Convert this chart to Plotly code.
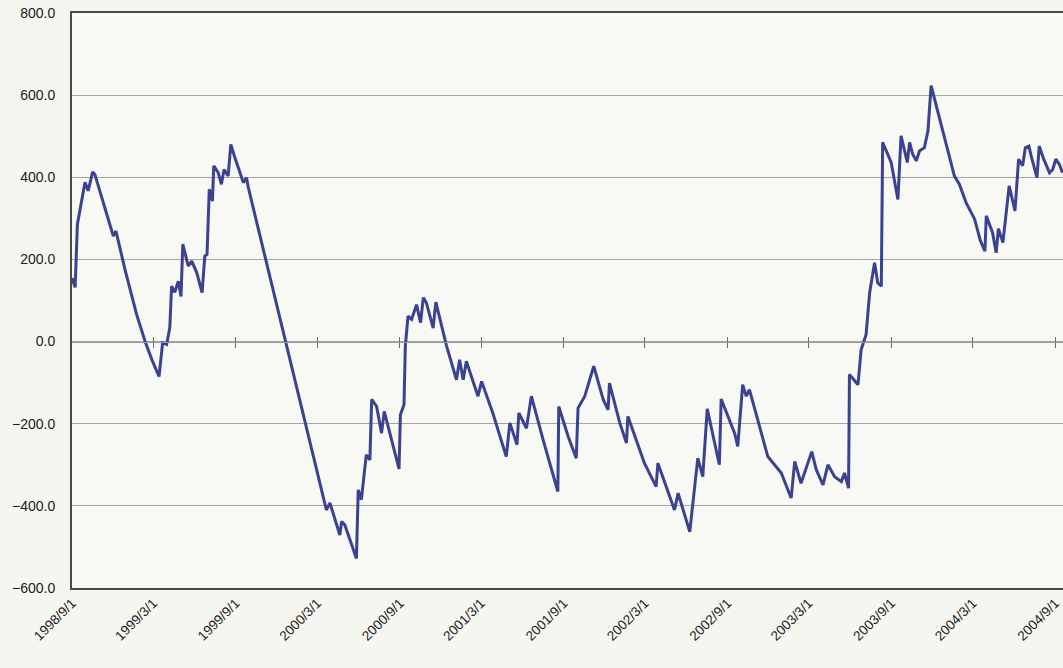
import plotly.graph_objects as go

dates = [
    "1998-09-01", "1998-09-08", "1998-09-13", "1998-09-23", "1998-09-30", "1998-10-07",
    "1998-10-17", "1998-10-22", "1998-12-02", "1998-12-08", "1998-12-28", "1999-01-23",
    "1999-02-11", "1999-02-26", "1999-03-14", "1999-03-22", "1999-03-31", "1999-04-07",
    "1999-04-11", "1999-04-18", "1999-04-26", "1999-05-02", "1999-05-06", "1999-05-18",
    "1999-05-26", "1999-06-06", "1999-06-18", "1999-06-24", "1999-06-29", "1999-07-04",
    "1999-07-11", "1999-07-14", "1999-07-24", "1999-07-31", "1999-08-06", "1999-08-15",
    "1999-08-21", "1999-08-30", "1999-09-18", "1999-09-25", "1999-09-29", "2000-03-21",
    "2000-03-29", "2000-04-20", "2000-04-24", "2000-05-01", "2000-05-27", "2000-05-31",
    "2000-06-07", "2000-06-18", "2000-06-26", "2000-06-30", "2000-07-11", "2000-07-22",
    "2000-07-28", "2000-08-30", "2000-09-02", "2000-09-10", "2000-09-13", "2000-09-19",
    "2000-09-27", "2000-10-08", "2000-10-17", "2000-10-23", "2000-10-30", "2000-11-14",
    "2000-11-20", "2000-12-14", "2001-01-05", "2001-01-12", "2001-01-20", "2001-01-27",
    "2001-02-22", "2001-03-02", "2001-03-27", "2001-04-26", "2001-05-04", "2001-05-20",
    "2001-05-24", "2001-06-10", "2001-06-21", "2001-07-17", "2001-08-19", "2001-08-21",
    "2001-09-11", "2001-09-29", "2001-10-03", "2001-10-18", "2001-11-07", "2001-11-28",
    "2001-12-09", "2001-12-12", "2002-01-04", "2002-01-19", "2002-01-22", "2002-02-28",
    "2002-03-26", "2002-03-30", "2002-05-06", "2002-05-14", "2002-06-09", "2002-06-27",
    "2002-07-08", "2002-07-18", "2002-08-14", "2002-08-18", "2002-09-17", "2002-09-24",
    "2002-10-05", "2002-10-13", "2002-10-20", "2002-11-30", "2002-12-30", "2003-01-21",
    "2003-01-29", "2003-02-12", "2003-03-08", "2003-03-18", "2003-04-02", "2003-04-13",
    "2003-04-28", "2003-05-13", "2003-05-20", "2003-05-29", "2003-05-31", "2003-06-19",
    "2003-06-26", "2003-07-07", "2003-07-15", "2003-07-26", "2003-08-02", "2003-08-10",
    "2003-08-13", "2003-09-01", "2003-09-16", "2003-09-23", "2003-10-07", "2003-10-12",
    "2003-10-19", "2003-10-27", "2003-11-03", "2003-11-14", "2003-11-22", "2003-11-29",
    "2004-01-09", "2004-01-20", "2004-01-31", "2004-02-15", "2004-03-05", "2004-03-18",
    "2004-03-28", "2004-03-31", "2004-04-14", "2004-04-22", "2004-04-27", "2004-05-07",
    "2004-05-21", "2004-06-03", "2004-06-11", "2004-06-20", "2004-06-26", "2004-07-04",
    "2004-07-09", "2004-07-22", "2004-07-27", "2004-08-06", "2004-08-19", "2004-08-26",
    "2004-09-02", "2004-09-10", "2004-09-17",
]

values = [
    155, 132, 285, 346, 388, 367,
    413, 407, 257, 269, 176, 66,
    0, -44, -85, -3, -7, 34,
    135, 120, 147, 110, 237, 184,
    196, 168, 119, 208, 212, 371,
    342, 428, 411, 383, 419, 403,
    480, 448, 387, 399, 375, -410,
    -393, -471, -438, -446, -528, -361,
    -385, -276, -288, -141, -158, -223,
    -170, -310, -178, -154, -11, 62,
    54, 90, 46, 107, 94, 33,
    96, -11, -93, -44, -93, -48,
    -133, -97, -174, -280, -198, -251,
    -174, -211, -133, -239, -365, -158,
    -231, -284, -162, -133, -60, -141,
    -166, -101, -198, -247, -182, -296,
    -353, -296, -410, -369, -463, -284,
    -329, -164, -300, -140, -223, -255,
    -105, -133, -117, -280, -320, -381,
    -292, -345, -268, -312, -349, -300,
    -329, -341, -320, -357, -80, -105,
    -20, 17, 119, 192, 143, 135,
    485, 436, 346, 501, 436, 485,
    456, 440, 464, 472, 513, 623,
    444, 403, 383, 338, 298, 245,
    220, 306, 265, 216, 275, 241,
    379, 318, 444, 428, 472, 476,
    452, 399, 476, 444, 411, 419,
    444, 431, 411,
]

tick_dates = ["1998-09-01", "1999-03-01", "1999-09-01", "2000-03-01", "2000-09-01",
              "2001-03-01", "2001-09-01", "2002-03-01", "2002-09-01", "2003-03-01",
              "2003-09-01", "2004-03-01", "2004-09-01"]
tick_labels = ["1998/9/1", "1999/3/1", "1999/9/1", "2000/3/1", "2000/9/1",
               "2001/3/1", "2001/9/1", "2002/3/1", "2002/9/1", "2003/3/1",
               "2003/9/1", "2004/3/1", "2004/9/1"]
y_ticks = [-600, -400, -200, 0, 200, 400, 600, 800]

x_range = ["1998-09-01", "2004-09-18"]
y_min, y_max = -600, 800
zero_pos = (0 - y_min) / (y_max - y_min)

fig = go.Figure()
fig.add_trace(go.Scatter(x=dates, y=values, mode="lines",
                         line=dict(color="#3b4290", width=3),
                         showlegend=False, hoverinfo="skip"))
# invisible traces to activate the zero-crossing axes
fig.add_trace(go.Scatter(x=x_range, y=[0, 0], xaxis="x2", mode="lines",
                         line=dict(width=0), showlegend=False, hoverinfo="skip"))
fig.add_trace(go.Scatter(x=x_range, y=[0, 0], xaxis="x3", mode="lines",
                         line=dict(width=0), showlegend=False, hoverinfo="skip"))

font = dict(family="Liberation Sans, Arial, sans-serif", size=14, color="#1a1a1a")

fig.update_layout(
    width=1063, height=668,
    margin=dict(l=72, r=0, t=13, b=80),
    paper_bgcolor="#f6f6f1",
    plot_bgcolor="#f8f8f4",
    font=font,
    xaxis=dict(
        type="date", range=x_range,
        tickvals=tick_dates, ticktext=tick_labels, tickangle=-45,
        tickfont=dict(family="Liberation Sans, Arial, sans-serif", size=13.5, color="#1a1a1a"),
        showgrid=False, zeroline=False,
        showline=True, linecolor="#4a4a4a", linewidth=2, mirror=True,
        ticks="",
    ),
    xaxis2=dict(
        type="date", range=x_range, overlaying="x", anchor="free", position=zero_pos,
        tickvals=tick_dates[1:], showticklabels=False, showgrid=False, zeroline=False,
        showline=True, linecolor="#9a9a96", linewidth=1,
        ticks="outside", ticklen=5, tickcolor="#6a6a6a", tickwidth=1,
    ),
    xaxis3=dict(
        type="date", range=x_range, overlaying="x", anchor="free", position=zero_pos,
        tickvals=tick_dates[1:], showticklabels=False, showgrid=False, zeroline=False,
        showline=False,
        ticks="inside", ticklen=5, tickcolor="#6a6a6a", tickwidth=1,
    ),
    yaxis=dict(
        range=[y_min, y_max], tickvals=y_ticks, tickformat=".1f",
        showgrid=True, gridcolor="#a4a4a0", gridwidth=1,
        zeroline=False,
        showline=True, linecolor="#4a4a4a", linewidth=2,
        ticks="", ticklabelstandoff=12,
    ),
)

fig.write_html("out.html",
               config={"displayModeBar": False, "staticPlot": True},
               post_script="document.body.style.margin='0';document.body.style.background='#f6f6f1';")
